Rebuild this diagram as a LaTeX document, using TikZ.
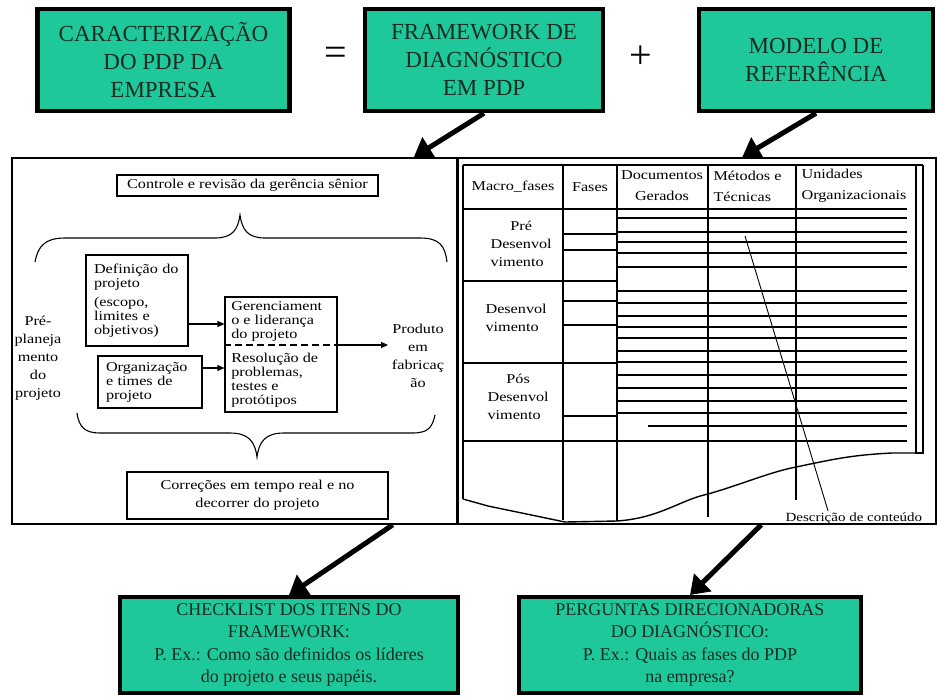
\documentclass[tikz,border=0pt]{standalone}
\usepackage{fontspec}
\setmainfont{Liberation Serif}
\newfontfamily\wideserif[FakeStretch=1.2]{Liberation Serif}
\usetikzlibrary{arrows.meta}
\definecolor{boxgreen}{RGB}{30,200,155}
\definecolor{boxtext}{RGB}{25,45,35}

\begin{document}
\begin{tikzpicture}[x=1pt, y=-1pt, line width=1.1pt,
        topbox/.style = {draw, line width=4.5pt, fill=boxgreen, text=boxtext, align=center, minimum height=102pt, font=\fontsize{23}{28}\selectfont},
        lowbox/.style = {draw, line width=4pt, fill=boxgreen, text=boxtext, align=center, minimum height=96pt, font=\fontsize{18}{22.5}\selectfont},
        panel/.style = {draw, line width=1.6pt, minimum height=366pt},
        txt/.style = {font=\wideserif\fontsize{13.5}{14}\selectfont},
        txtwide/.style = {font=\wideserif\fontsize{13.5}{18}\selectfont},
        tabtext/.style = {font=\wideserif\fontsize{13.5}{18}\selectfont, inner sep=0pt},
        big/.style = {line width=5pt, -{Triangle[length=18pt,width=24pt]}},
        arr/.style = {-{Triangle[length=7pt,width=6pt]}}]
        \useasboundingbox (0,0) rectangle (937,697);
        \clip (0,0) rectangle (937,697);
        \node[topbox, minimum width=252pt] (carac) at (163.5,60) {CARACTERIZAÇÃO\\DO PDP DA\\EMPRESA};
        \node[topbox, minimum width=238pt] (frame) at (484,60) {FRAMEWORK DE\\DIAGNÓSTICO\\EM PDP};
        \node[topbox, minimum width=234pt] (modelo) at (816,60) {MODELO DE\\REFERÊNCIA};
        \node[font=\fontsize{40}{40}\selectfont] (igual) at (336,56) {=};
        \node[font=\fontsize{40}{40}\selectfont] (mais) at (641,57) {+};
        \node[panel, minimum width=445pt] (framepanel) at (234.5,341) {};
        \node[panel, minimum width=478pt] (refpanel) at (697,341) {};
        \node[lowbox, minimum width=338pt] (check) at (289,645) {CHECKLIST DOS ITENS DO\\FRAMEWORK:\\P. Ex.: Como são definidos os líderes\\do projeto e seus papéis.};
        \node[lowbox, minimum width=342pt] (perg) at (690,645) {PERGUNTAS DIRECIONADORAS\\DO DIAGNÓSTICO:\\P. Ex.: Quais as fases do PDP\\na empresa?};

        \node[draw, txt, minimum width=261pt, minimum height=21pt] (controle) at (247.5,185.5) {Controle e revisão da gerência sênior};
        \node[draw, txtwide, align=center, minimum width=261pt, minimum height=47pt] (correcoes) at (257.5,495.5) {Correções em tempo real e no\\decorrer do projeto};
        \draw (35,262) .. controls (38,246) and (45,238) .. (65,238) -- (215,238) .. controls (232,238) and (238,230) .. (240,215) .. controls (242,230) and (248,238) .. (265,238) -- (420,238) .. controls (440,238) and (445,246) .. (447,262);
        \draw (77,413) .. controls (79,428) and (86,433) .. (100,433) -- (230,433) .. controls (248,433) and (255,441) .. (257,457) .. controls (259,441) and (266,433) .. (284,433) -- (412,433) .. controls (428,433) and (432,428) .. (435,415);
        \node[txtwide, align=center, inner sep=1pt] (pre) at (38,358) {Pré-\\planeja\\mento\\do\\projeto};
        \node[draw, txt, minimum width=102pt, minimum height=91pt, text width=86pt, align=left, inner xsep=8pt] (defin) at (137,300.5) {Definição do\\projeto\\[5pt](escopo,\\limites e\\objetivos)};
        \node[draw, txt, minimum width=104pt, minimum height=52pt, text width=88pt, align=left, inner xsep=8pt] (org) at (150,382) {Organização\\e times de\\projeto};
        \node[draw, minimum width=112pt, minimum height=115pt] (gerbox) at (281,354.5) {};
        \node[txt, align=left, anchor=north west] (ger) at ([xshift=3pt,yshift=-1pt]gerbox.north west) {Gerenciament\\o e liderança\\do projeto};
        \node[txt, align=left, anchor=south west] (resol) at ([xshift=3pt,yshift=1pt]gerbox.south west) {Resolução de\\problemas,\\testes e\\protótipos};
        \node[txtwide, align=center] (produto) at (418,356) {Produto\\em\\fabricaç\\ão};
        \coordinate (p1) at ([yshift=9.5pt]gerbox.east);
        \coordinate (d1) at ([yshift=-23.5pt]defin.east);
        \coordinate (o1) at ([yshift=14pt]org.east);
        \draw[dashed, dash pattern=on 7pt off 4pt] ([yshift=9.5pt]gerbox.west) -- (p1);
        \draw[arr] (p1) -- (p1 -| produto.west);
        \draw[arr] (d1) -- (d1 -| gerbox.west);
        \draw[arr] (o1) -- (o1 -| gerbox.west);

        \draw (463,165) -- (923,165);
        \draw (463,209) -- (907,209);
        \draw (463,165) -- (463,499);
        \foreach \x/\yb in {563/520, 617/521, 708/517, 796/500}
            \draw (\x,165) -- (\x,\yb);
        \draw (916,165) -- (916,453) -- (923,453) -- (923,165);
        \foreach \y in {281,363}
            \draw (463,\y) -- (617,\y);
        \foreach \y in {234,250,301,325,416}
            \draw (563,\y) -- (617,\y);
        \foreach \y in {218,232,242,253,267,291,303,316,327,338,351,362,375,388,401,413}
            \draw (617,\y) -- (907,\y);
        \draw (648,426) -- (907,426);
        \draw (463,441) -- (907,441);
        \foreach \xa/\xb/\y in {752/838/218, 802/882/232, 722/815/242, 770/830/253, 750/838/267, 722/815/291, 845/882/303, 802/882/327, 722/780/351, 722/745/375, 722/815/388, 722/750/401, 640/700/413}
            \draw[line width=1.8pt] (\xa,\y) -- (\xb,\y);
        \draw[line width=1.4pt] (463,499) -- (488,506) -- (565,522) -- (617,521) .. controls (660,518) and (680,500) .. (708,494) .. controls (740,485) and (770,472) .. (796,467) .. controls (830,460) and (850,455) .. (892,453) -- (916,453);
        \node[tabtext, font=\wideserif\fontsize{13.5}{21}\selectfont] (macro) at (513,187) {Macro\_fases};
        \node[tabtext] (fases) at (590,187) {Fases};
        \node[tabtext, font=\wideserif\fontsize{13.5}{21}\selectfont, align=center] (docs) at (662,186) {Documentos\\Gerados};
        \node[tabtext, font=\wideserif\fontsize{13.5}{21}\selectfont, align=left, anchor=west] (metodos) at (713,186) {Métodos e\\Técnicas};
        \node[tabtext, font=\wideserif\fontsize{13.5}{21}\selectfont, align=left, anchor=west] (unid) at (801,186) {Unidades\\Organizacionais};
        \node[tabtext, anchor=west] (macroa) at (490,245) {\begin{tabular}{@{}l@{}}\multicolumn{1}{@{}c@{}}{Pré}\\Desenvol\\vimento\end{tabular}};
        \node[tabtext, align=left, anchor=west] (macrob) at (485,318) {Desenvol\\vimento};
        \node[tabtext, anchor=west] (macroc) at (487,398) {\begin{tabular}{@{}l@{}}\multicolumn{1}{@{}c@{}}{Pós}\\Desenvol\\vimento\end{tabular}};
        \node[tabtext, font=\wideserif\fontsize{12.5}{15}\selectfont, anchor=base west, inner sep=1pt] (descr) at (784,521) {Descrição de conteúdo};
        \coordinate (dp) at (745,236);
        \draw[line width=0.9pt] (dp) -- ([xshift=44pt]descr.north west);

        \draw[big] (frame.south) -- ([xshift=-44pt]framepanel.north east);
        \draw[big] (modelo.south) -- ([xshift=285pt]refpanel.north west);
        \draw[big] ([xshift=-65pt]framepanel.south east) -- (check.north);
        \draw[big] ([xshift=304pt]refpanel.south west) -- (perg.north);
\end{tikzpicture}
\end{document}
